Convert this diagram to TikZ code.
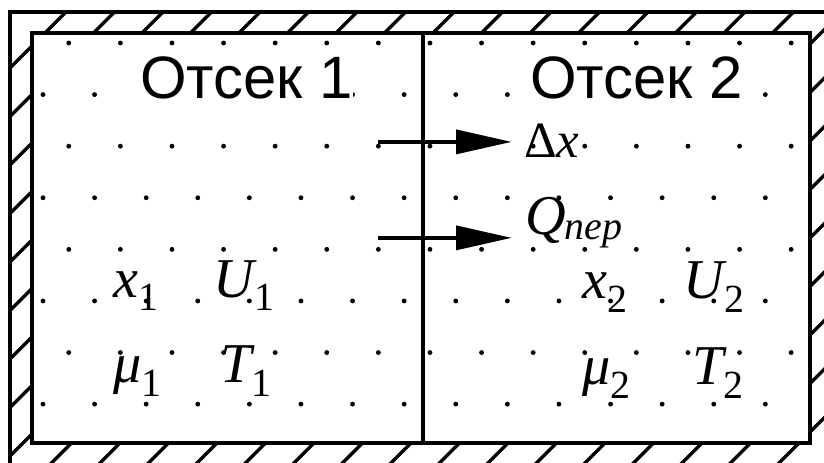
\documentclass[tikz,border=0pt]{standalone}
\usepackage{fontspec}
\setmainfont{Liberation Serif}
\newfontfamily\sansru{Liberation Sans}
\usetikzlibrary{arrows.meta}
\newcommand{\qsym}[2]{{\itshape #1}\raisebox{-0.24em}{\fontsize{22}{22}\selectfont #2}}

\begin{document}
\begin{tikzpicture}[
  wall/.style={line width=2.6pt, draw=black},
  hatch/.style={line width=1.9pt, draw=black},
  title/.style={font=\sansru\fontsize{33}{34}\selectfont, fill=white, inner sep=0pt, anchor=base west},
  qty/.style={font=\fontsize{31}{32}\selectfont, inner sep=0pt, anchor=base west},
  flow/.style={line width=2.3pt, -{Triangle[length=1.08cm, width=0.46cm]}}
]
  % Caja fija al tamaño de la imagen 824x463
  \useasboundingbox (0,0) rectangle (15.97,-8.973);

  % --- PARED ---
  \begin{scope}[even odd rule]
    \clip (0.194,-0.233) rectangle (16.13,-9.02) (0.62,-0.64) rectangle (15.70,-8.585);
    \foreach \k in {0,...,26}
      \draw[hatch] ({1.512+0.94*\k-10},-10) -- ({1.512+0.94*\k+1},1);
  \end{scope}
  \draw[wall] (0.194,-0.233) rectangle (16.13,-9.02);
  \draw[wall] (0.62,-0.64) rectangle (15.70,-8.585);

  % --- GAS (puntos) ---
  \foreach \r in {0,...,7}
    \foreach \k in {0,...,14}
      \fill ({0.833+\k+0.5*(1-mod(\r,2))},{-0.833-\r}) circle (0.047);

  \draw[wall, line width=2.2pt] (8.2,-0.64) -- (8.2,-8.585);

  % --- OTSEK 1 ---
  \node[title] (c1) at (2.71,-1.90) {Отсек 1};
  \node[qty] (x1) at (2.19,-5.76) {\qsym{x}{1}};
  \node[qty] (u1) at (4.13,-5.76) {\qsym{U}{1}};
  \node[qty] (m1) at (2.19,-7.42) {\qsym{μ}{1}};
  \node[qty] (t1) at (4.26,-7.42) {\qsym{T}{1}};

  % --- OTSEK 2 ---
  \node[title] (c2) at (10.27,-1.90) {Отсек 2};
  \node[qty] (x2) at (11.28,-5.79) {\qsym{x}{2}};
  \node[qty] (u2) at (13.24,-5.79) {\qsym{U}{2}};
  \node[qty] (m2) at (11.28,-7.46) {\qsym{μ}{2}};
  \node[qty] (t2) at (13.41,-7.46) {\qsym{T}{2}};

  % --- FLUJOS ---
  \node[qty, font=\fontsize{28}{28}\selectfont] (dx) at (10.15,-3.06) {Δ\textit{x}};
  \node[qty] (q) at (10.17,-4.55) {\textit{Q}\kern-0.02em\raisebox{-2.5pt}{\fontsize{22}{22}\selectfont\itshape пер}};

  \coordinate (a1) at (7.33,-2.75);
  \coordinate (b1) at (9.92,-2.75);
  \coordinate (a2) at (7.33,-4.61);
  \coordinate (b2) at (9.92,-4.61);
  \draw[flow] (a1) -- (b1);
  \draw[flow] (a2) -- (b2);
\end{tikzpicture}
\end{document}
